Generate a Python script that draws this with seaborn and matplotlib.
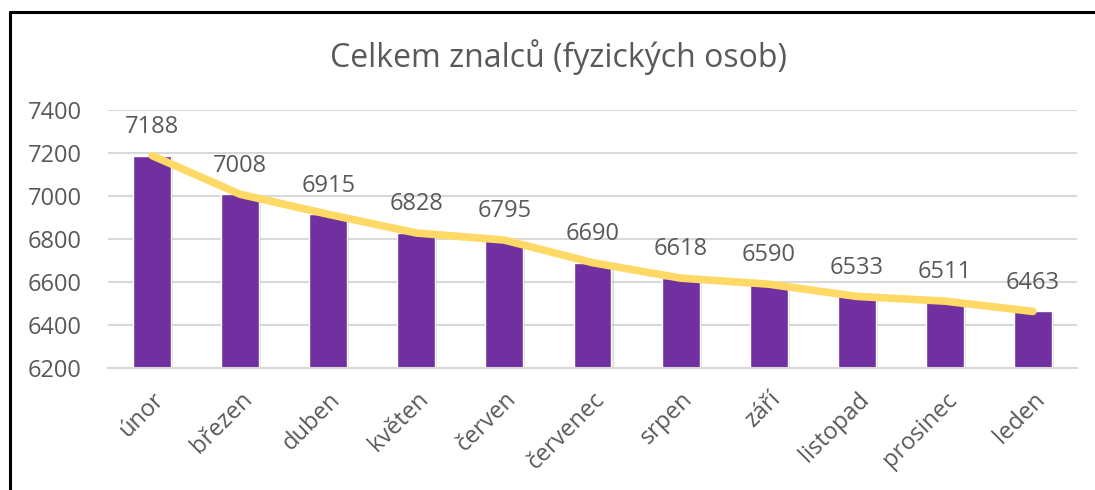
import matplotlib
matplotlib.use("Agg")
from matplotlib import pyplot as plt
from matplotlib import patheffects as pe
from matplotlib.lines import Line2D
import seaborn as sns
import pandas as pd

mesice = ['únor', 'březen', 'duben', 'květen', 'červen', 'červenec',
          'srpen', 'září', 'listopad', 'prosinec', 'leden']
znalci = [7188, 7008, 6915, 6828, 6795, 6690, 6618, 6590, 6533, 6511, 6463]
y_ticks = [6200, 6400, 6600, 6800, 7000, 7200, 7400]

df = pd.DataFrame({'mesic': mesice, 'pocet': znalci})

sns.set_theme(style="white")
plt.rcParams['font.family'] = ['Open Sans', 'DejaVu Sans']

text_color = '#595959'
grid_color = '#D9D9D9'

fig = plt.figure(figsize=(10.95, 4.9), dpi=100)
ax = fig.add_axes([108 / 1095, 1 - 368 / 490, (1077 - 108) / 1095, (368 - 110) / 490])

sns.barplot(data=df, x='mesic', y='pocet', color='#7030A0', saturation=1,
            width=0.43, ax=ax, zorder=2)
for bar in ax.patches:
    bar.set_path_effects([pe.SimplePatchShadow(offset=(1.5, -1.5), alpha=0.25,
                                               shadow_rgbFace='#808080'),
                          pe.Normal()])

ax.plot(range(len(znalci)), znalci, color='#FFD966', lw=5.5,
        solid_capstyle='round', solid_joinstyle='round', zorder=3)

for i, v in enumerate(znalci):
    ax.annotate(str(v), (i, v), xytext=(0, 12), textcoords='offset points',
                ha='center', va='bottom', fontsize=17, color=text_color)

ax.set_ylim(6200, 7400)
ax.set_xlim(-0.5, len(mesice) - 0.5)
ax.set_yticks(y_ticks)
ax.yaxis.grid(True, color=grid_color, lw=1.5)
ax.set_axisbelow(True)
ax.set_xlabel('')
ax.set_ylabel('')

for s in ['top', 'right', 'left']:
    ax.spines[s].set_visible(False)
ax.spines['bottom'].set_color(grid_color)
ax.spines['bottom'].set_linewidth(1.5)

ax.set_xticks(range(len(mesice)))
ax.set_xticklabels(mesice, rotation=45, ha='right', rotation_mode='anchor',
                   fontsize=17, color=text_color)
ax.tick_params(axis='x', length=0, pad=14)
ax.tick_params(axis='y', length=0, labelsize=17, labelcolor=text_color, pad=19)
# tick marks between categories
ax.set_xticks([i - 0.5 for i in range(len(mesice) + 1)], minor=True)
ax.tick_params(axis='x', which='minor', length=7, width=1.5, color=grid_color)

fig.text(559 / 1095, 1 - 57 / 490, 'Celkem znalců (fyzických osob)',
         ha='center', va='center', fontsize=23, color=text_color)

# frame of the chart
fig.add_artist(Line2D([10 / 1095, 1], [1 - 13 / 490, 1 - 13 / 490],
                      color='#C8C8C8', lw=1.5, transform=fig.transFigure))
fig.add_artist(Line2D([10 / 1095, 1], [1 - 12 / 490, 1 - 12 / 490],
                      color='black', lw=2.2, transform=fig.transFigure))
fig.add_artist(Line2D([10 / 1095, 10 / 1095], [0, 1 - 12 / 490],
                      color='black', lw=2.2, transform=fig.transFigure))

fig.savefig('out.png', dpi=100)
